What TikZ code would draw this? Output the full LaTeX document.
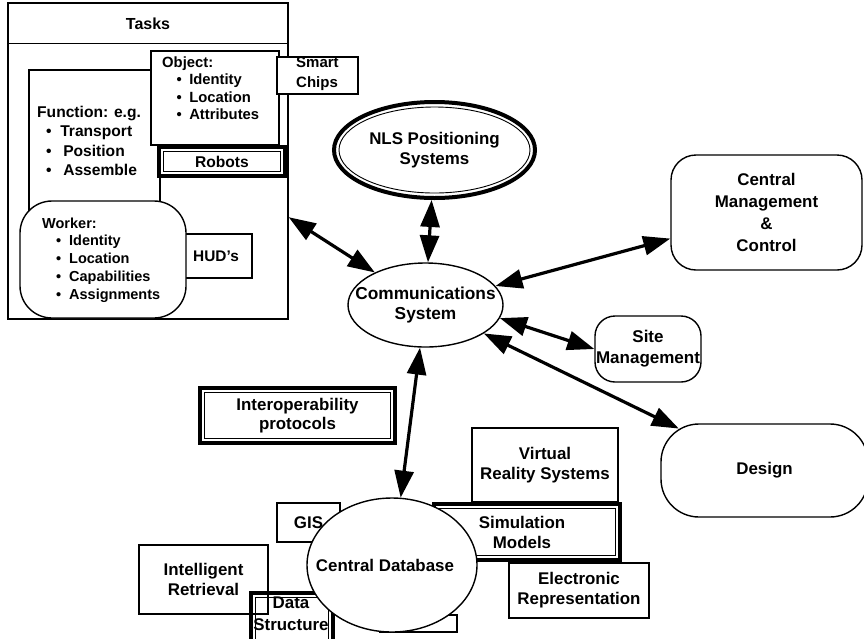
\documentclass[tikz,border=0pt]{standalone}
\usepackage{fontspec}
\setmainfont{Liberation Sans}
\usetikzlibrary{arrows.meta,shapes.geometric,calc}
\newcommand\dgmain{\fontsize{16.9}{20}\selectfont\bfseries}
\begin{document}
\begin{tikzpicture}[x=1pt,y=-1pt,
  bx/.style={draw,line width=1.4pt,fill=white,inner sep=0pt,align=center,font=\dgmain},
  rbx/.style={bx,rounded corners=#1},
  dbl/.style={draw,line width=4pt,fill=white,inner sep=0pt,align=center,font=\dgmain,
    path picture={\draw[line width=0.9pt] ([shift={(4.5pt,-4.5pt)}]path picture bounding box.north west) rectangle ([shift={(-4.5pt,4.5pt)}]path picture bounding box.south east);}},
  ell/.style={draw,line width=1.4pt,fill=white,ellipse,inner sep=0pt},
  lbl/.style={font=\dgmain,align=center,inner sep=0pt},
  lst/.style={align=left,inner sep=0pt,anchor=north west},
  arr/.style={line width=3.2pt,{Triangle[length=27pt,width=19pt]}-{Triangle[length=27pt,width=19pt]}}]
\useasboundingbox (0,0) rectangle (864,638);
\clip (0,0) rectangle (864,638);
\fill[white] (0,0) rectangle (864,638);

% Tasks group
\node[bx,minimum width=280pt,minimum height=316pt] (tasks) at (148,161) {};
\draw[line width=1.4pt] ([yshift=-41pt]tasks.north west) -- ([yshift=-41pt]tasks.north east);
\node[lbl,font=\fontsize{16}{18}\selectfont\bfseries] (taskstitle) at (148,23.5) {Tasks};
\node[bx,minimum width=131pt,minimum height=143pt] (func) at (94.5,141.5) {};
\node[lst,font=\fontsize{15.6}{19.3}\selectfont\bfseries] (functext) at (37,106)
  {Function: e.g.\\\hspace*{8.8pt}\textbullet\hspace{8.8pt}Transport\\\hspace*{8.8pt}\textbullet\hspace{11.8pt}Position\\\hspace*{8.8pt}\textbullet\hspace{11.8pt}Assemble};
\node[bx,minimum width=128pt,minimum height=94pt] (obj) at (215,98) {};
\node[lst,font=\fontsize{14.8}{17.5}\selectfont\bfseries] (objtext) at (162,56.4)
  {Object:\\\hspace*{14.5pt}\textbullet\hspace{7.4pt}Identity\\\hspace*{14.5pt}\textbullet\hspace{7.4pt}Location\\\hspace*{14.5pt}\textbullet\hspace{7.4pt}Attributes};
\node[bx,minimum width=81pt,minimum height=37pt] (smart) at (317.5,75.5) {};
\node[lst,font=\fontsize{15}{20}\selectfont\bfseries] (smarttext) at (296,57.3) {Smart\\Chips};
\node[dbl,minimum width=126pt,minimum height=29pt,font=\fontsize{15.6}{18}\selectfont\bfseries] (robots) at (222,161.5) {Robots};
\node[bx,minimum width=72pt,minimum height=44pt,font=\fontsize{15.4}{18}\selectfont\bfseries] (hud) at (216,256) {HUD’s};
\node[rbx=32pt,minimum width=166pt,minimum height=117pt] (worker) at (103,259.5) {};
\node[lst,font=\fontsize{14.5}{17.7}\selectfont\bfseries] (workertext) at (42,217.5)
  {Worker:\\\hspace*{13.8pt}\textbullet\hspace{8.1pt}Identity\\\hspace*{13.8pt}\textbullet\hspace{8.1pt}Location\\\hspace*{13.8pt}\textbullet\hspace{8.1pt}Capabilities\\\hspace*{13.8pt}\textbullet\hspace{8.1pt}Assignments};

% central nodes
\node[ellipse,draw,line width=4pt,fill=white,inner sep=0pt,minimum width=201pt,minimum height=96pt,
  path picture={\draw[line width=0.9pt] (path picture bounding box.center) ellipse [x radius=95.5pt, y radius=43pt];}] (nls) at (434.5,150) {};
\node[lbl,font=\fontsize{16.9}{20.5}\selectfont\bfseries] (nlstext) at (nls) {NLS Positioning\\Systems};
\node[ell,minimum width=155pt,minimum height=84pt] (comm) at (425.5,305) {};
\node[lbl,font=\fontsize{17.3}{20}\selectfont\bfseries] (commtext) at (comm) {Communications\\System};
\node[rbx=25pt,minimum width=191pt,minimum height=115pt,font=\fontsize{16.9}{21.7}\selectfont\bfseries] (cm) at (766.5,212.5) {Central\\Management\\\&\\Control};
\node[rbx=20pt,minimum width=106pt,minimum height=66pt,font=\fontsize{17}{21}\selectfont\bfseries] (site) at (648,349) {Site\\Management};
\node[rbx=38pt,minimum width=207pt,minimum height=93pt] (design) at (764.5,470.5) {Design};
\node[dbl,minimum width=195pt,minimum height=55pt,font=\fontsize{16.9}{18.5}\selectfont\bfseries] (interop) at (297.5,415.5) {Interoperability\\protocols};

% database cluster
\node[bx,minimum width=146pt,minimum height=74pt] (vr) at (545,465) {Virtual\\Reality Systems};
\node[bx,minimum width=63pt,minimum height=39pt] (gis) at (308.5,522.5) {GIS};
\node[dbl,minimum width=186pt,minimum height=56pt] (sim) at (527,532) {};
\node[bx,minimum width=140pt,minimum height=55pt] (er) at (579,590.5) {Electronic\\Representation};
\node[bx,minimum width=77pt,minimum height=17pt] (frag) at (418.5,623.5) {};
\node[dbl,minimum width=82pt,minimum height=55pt] (ds) at (292,620.5) {};
\node[ell,minimum width=170pt,minimum height=134pt] (cdb) at (392,565) {};
\node[lbl] (cdbtext) at (385,565) {Central Database};
\node[lbl] (simtext) at (522,532) {Simulation\\Models};
\node[lbl,font=\fontsize{16.9}{22}\selectfont\bfseries] (dstext) at (291,614) {Data\\Structure};
\node[draw,line width=1.4pt,inner sep=0pt,align=center,font=\dgmain,minimum width=129pt,minimum height=69pt] (ir) at (203.5,579.5) {Intelligent\\Retrieval};

% connectors
\draw[arr] ($(tasks.north east)!0.677!(tasks.south east)$) -- (comm);
\draw[arr] (nls) -- (comm);
\draw[arr] (comm) -- (cm);
\draw[arr] (comm.-10) -- (site.west);
\draw[arr,shorten >=-12pt] (comm) -- (design);
\draw[arr] (comm) -- (cdb);
\end{tikzpicture}
\end{document}
